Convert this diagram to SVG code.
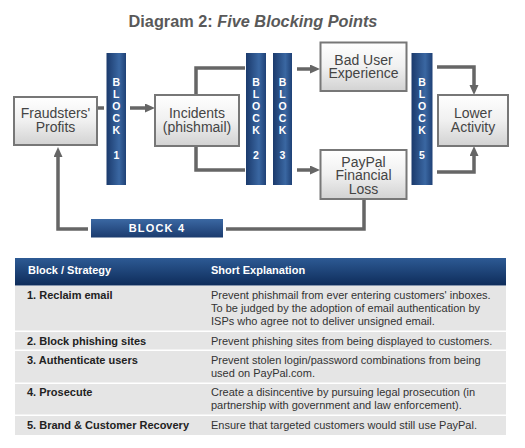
<svg xmlns="http://www.w3.org/2000/svg" width="525" height="448" viewBox="0 0 525 448">
<defs>
<linearGradient id="boxg" x1="0" y1="0" x2="0" y2="1">
<stop offset="0" stop-color="#ffffff"/><stop offset="0.5" stop-color="#f0f0f0"/><stop offset="1" stop-color="#d2d2d2"/>
</linearGradient>
<linearGradient id="barv" x1="0" y1="0" x2="1" y2="0">
<stop offset="0" stop-color="#1b3a6c"/><stop offset="0.65" stop-color="#3a67a2"/><stop offset="1" stop-color="#1f4176"/>
</linearGradient>
<linearGradient id="barh" x1="0" y1="0" x2="0" y2="1">
<stop offset="0" stop-color="#3b68a3"/><stop offset="1" stop-color="#1b3b6e"/>
</linearGradient>
<linearGradient id="hdr" x1="0" y1="0" x2="0" y2="1">
<stop offset="0" stop-color="#2d5a94"/><stop offset="1" stop-color="#0e2c5a"/>
</linearGradient>
<marker id="ah" markerUnits="userSpaceOnUse" markerWidth="11" markerHeight="10" refX="2" refY="4.5" orient="auto">
<path d="M0,0 L10,4.5 L0,9 z" fill="#666"/>
</marker>
</defs>
<style>
.box{fill:url(#boxg);stroke:#777;stroke-width:2}
.bt{font-family:"Liberation Sans",Arial,sans-serif;font-size:14px;fill:#444;text-anchor:middle}
.bar{fill:url(#barv)}
.bl{font-family:"Liberation Sans",Arial,sans-serif;font-size:10.5px;font-weight:bold;fill:#fff;text-anchor:middle}
.ln{fill:none;stroke:#666;stroke-width:3.5}
.th{font-family:"Liberation Sans",Arial,sans-serif;font-size:11px;font-weight:bold;fill:#fff}
.tb{font-family:"Liberation Sans",Arial,sans-serif;font-size:11px;font-weight:bold;fill:#222}
.tt{font-family:"Liberation Sans",Arial,sans-serif;font-size:11px;fill:#333}
.row{fill:#e5e5e5}
</style>
<rect width="525" height="448" fill="#fff"/>
<text x="253" y="27" font-family="'Liberation Sans',Arial,sans-serif" font-size="16.3" font-weight="bold" fill="#595959" text-anchor="middle">Diagram 2: <tspan font-style="italic">Five Blocking Points</tspan></text>

<g id="connectors">
<path class="ln" d="M97,108 H104"/>
<path class="ln" d="M130,108 H147" marker-end="url(#ah)"/>
<path class="ln" d="M196,95 V68 H245"/>
<path class="ln" d="M196,146 V170 H245"/>
<path class="ln" d="M297,69 H312" marker-end="url(#ah)"/>
<path class="ln" d="M297,170 H312" marker-end="url(#ah)"/>
<path class="ln" d="M437,67 H474 V87" marker-end="url(#ah)"/>
<path class="ln" d="M437,172 H474 V154" marker-end="url(#ah)"/>
<path class="ln" d="M364,199 V229 H226"/>
<path class="ln" d="M88,229 H58 V155" marker-end="url(#ah)"/>
</g>

<g id="fraudsters">
<rect class="box" x="14" y="97" width="83" height="48"/>
<text class="bt" x="55.5" y="118">Fraudsters'<tspan x="55.5" dy="13.5">Profits</tspan></text>
</g>
<g id="incidents">
<rect class="box" x="155" y="95" width="84" height="51"/>
<text class="bt" x="197" y="118">Incidents<tspan x="197" dy="13.5">(phishmail)</tspan></text>
</g>
<g id="baduser">
<rect class="box" x="320.5" y="42.5" width="86" height="48.5"/>
<text class="bt" x="363.5" y="65">Bad User<tspan x="363.5" dy="12.5">Experience</tspan></text>
</g>
<g id="paypal">
<rect class="box" x="320.5" y="150" width="86" height="49"/>
<text class="bt" x="363.5" y="166.5">PayPal<tspan x="363.5" dy="13.5">Financial</tspan><tspan x="363.5" dy="13.5">Loss</tspan></text>
</g>
<g id="lower">
<rect class="box" x="438" y="95" width="70" height="51"/>
<text class="bt" x="473" y="118">Lower<tspan x="473" dy="13.5">Activity</tspan></text>
</g>

<g id="block1">
<rect class="bar" x="106.5" y="53" width="19.5" height="132"/>
<text class="bl" x="116.3" y="86">B<tspan x="116.3" dy="12">L</tspan><tspan x="116.3" dy="12">O</tspan><tspan x="116.3" dy="12">C</tspan><tspan x="116.3" dy="12">K</tspan><tspan x="116.3" dy="25">1</tspan></text>
</g>
<g id="block2">
<rect class="bar" x="246" y="53" width="20" height="132"/>
<text class="bl" x="256" y="86">B<tspan x="256" dy="12">L</tspan><tspan x="256" dy="12">O</tspan><tspan x="256" dy="12">C</tspan><tspan x="256" dy="12">K</tspan><tspan x="256" dy="25">2</tspan></text>
</g>
<g id="block3">
<rect class="bar" x="273" y="53" width="19" height="132"/>
<text class="bl" x="282.5" y="86">B<tspan x="282.5" dy="12">L</tspan><tspan x="282.5" dy="12">O</tspan><tspan x="282.5" dy="12">C</tspan><tspan x="282.5" dy="12">K</tspan><tspan x="282.5" dy="25">3</tspan></text>
</g>
<g id="block5">
<rect class="bar" x="411.5" y="53" width="21" height="132"/>
<text class="bl" x="422" y="86">B<tspan x="422" dy="12">L</tspan><tspan x="422" dy="12">O</tspan><tspan x="422" dy="12">C</tspan><tspan x="422" dy="12">K</tspan><tspan x="422" dy="25">5</tspan></text>
</g>
<g id="block4">
<rect x="91" y="219" width="132" height="18.5" fill="url(#barh)"/>
<text x="157" y="231.5" font-family="'Liberation Sans',Arial,sans-serif" font-size="11" font-weight="bold" fill="#fff" text-anchor="middle" letter-spacing="1.2">BLOCK 4</text>
</g>

<g id="table">
<rect x="15" y="258" width="491" height="27.5" fill="url(#hdr)"/>
<text class="th" x="28" y="274">Block / Strategy</text>
<text class="th" x="211" y="274">Short Explanation</text>
<rect class="row" x="15" y="286" width="491" height="44.5"/>
<rect class="row" x="15" y="332" width="491" height="17.5"/>
<rect class="row" x="15" y="351" width="491" height="31.5"/>
<rect class="row" x="15" y="384" width="491" height="30.5"/>
<rect class="row" x="15" y="416" width="491" height="19"/>
<text class="tb" x="27" y="299">1. Reclaim email</text>
<text class="tt" x="211" y="299">Prevent phishmail from ever entering customers' inboxes.<tspan x="211" dy="13">To be judged by the adoption of email authentication by</tspan><tspan x="211" dy="13">ISPs who agree not to deliver unsigned email.</tspan></text>
<text class="tb" x="27" y="345">2. Block phishing sites</text>
<text class="tt" x="211" y="345">Prevent phishing sites from being displayed to customers.</text>
<text class="tb" x="27" y="364">3. Authenticate users</text>
<text class="tt" x="211" y="364">Prevent stolen login/password combinations from being<tspan x="211" dy="13">used on PayPal.com.</tspan></text>
<text class="tb" x="27" y="396">4. Prosecute</text>
<text class="tt" x="211" y="396">Create a disincentive by pursuing legal prosecution (in<tspan x="211" dy="13">partnership with government and law enforcement).</tspan></text>
<text class="tb" x="27" y="429">5. Brand &amp; Customer Recovery</text>
<text class="tt" x="211" y="429">Ensure that targeted customers would still use PayPal.</text>
</g>
</svg>
